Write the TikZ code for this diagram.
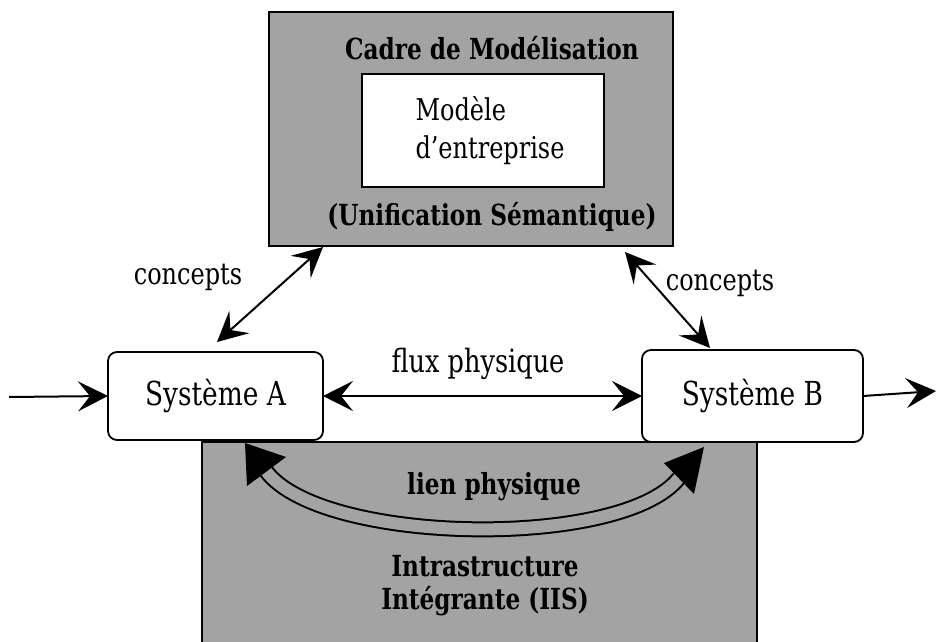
\documentclass[tikz,border=0pt]{standalone}
\usepackage{fontspec}
\setmainfont[FakeStretch=0.8]{DejaVu Serif}
\usetikzlibrary{arrows.meta}
\definecolor{shade}{gray}{0.64}
\begin{document}
\begin{tikzpicture}[x=1pt,y=-1pt,
  panel/.style={draw=black,line width=1.8pt,fill=shade,outer sep=0pt,inner sep=0pt},
  whitebox/.style={draw=black,line width=1.8pt,fill=white,outer sep=0pt,inner sep=0pt},
  sysbox/.style={draw=black,line width=1.8pt,rounded corners=9pt,fill=white,outer sep=0pt,
    font=\fontsize{33}{38}\selectfont},
  lbl/.style={font=\fontsize{30}{34}\selectfont},
  graylbl/.style={font=\fontsize{29}{33}\selectfont\bfseries,align=center},
  link/.style={line width=2pt,
    {Stealth[length=30pt,width=30pt,inset=12pt]}-{Stealth[length=30pt,width=30pt,inset=12pt]}},
  flow/.style={line width=2pt,-{Stealth[length=30pt,width=30pt,inset=12pt]}},
  ribbon/.style={line width=2pt,double=shade,double distance=12pt}
]
\useasboundingbox[fill=white] (0,0) rectangle (937,642);

% bottom panel (infrastructure)
\node[panel,anchor=north west,minimum width=555pt,minimum height=215pt] (iis) at (202,442) {};

% top panel (cadre de modelisation)
\node[panel,anchor=north west,minimum width=404pt,minimum height=234pt] (cadre) at (269,12) {};
\node[whitebox,anchor=north west,minimum width=242pt,minimum height=113pt] (modele) at (362,74) {};
\node[font=\fontsize{30}{38}\selectfont,align=left] (modeletxt) at (490,131) {Modèle\\d'entreprise};
\node[graylbl] (cadretxt) at (492,48) {Cadre de Modélisation};
\node[graylbl] (unif) at (492,217) {(Unification Sémantique)};

% systems
\node[sysbox,minimum width=215pt,minimum height=88pt] (A) at (215.5,396) {Système A};
\node[sysbox,minimum width=221pt,minimum height=92pt] (B) at (752.5,396) {Système B};

% input / output
\coordinate (in) at (9,397);
\coordinate (out) at (936,391);
\draw[flow] (in) -- (A.west);
\draw[flow] (B.east) -- (out);

% flux physique
\draw[link] (A.east) -- (B.west);
\node[font=\fontsize{32}{36}\selectfont] (flux) at (478,364) {flux physique};

% concepts
\coordinate (cA1) at (217,342);
\coordinate (cA2) at (323,247);
\coordinate (cB1) at (625,252);
\coordinate (cB2) at (710,348);
\draw[link] (cA1) -- (cA2);
\draw[link] (cB1) -- (cB2);
\node[lbl] (concL) at (188,277) {concepts};
\node[lbl] (concR) at (720,283) {concepts};

% lien physique
\coordinate (lA) at (266,471);
\coordinate (lB) at (679,478);
\draw[ribbon] (lA) .. controls (321,545) and (622,550) .. (lB);
\fill[black] (245,443) -- (286,457) -- (247,486) -- cycle;
\fill[black] (704,447) -- (664,463) -- (694,494) -- cycle;
\node[graylbl] (lien) at (494,487) {lien physique};
\node[graylbl] (infra) at (485,586) {Intrastructure\\Intégrante (IIS)};
\end{tikzpicture}
\end{document}
